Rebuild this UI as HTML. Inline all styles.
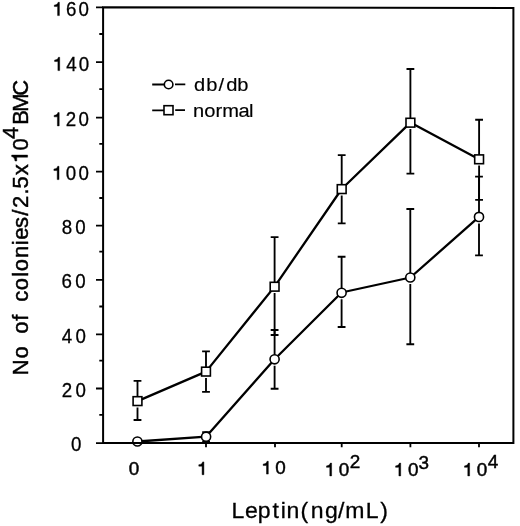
<!DOCTYPE html>
<html><head><meta charset="utf-8">
<style>
html,body{margin:0;padding:0;background:#fff;}
body{width:520px;height:526px;overflow:hidden;}
svg{display:block;will-change:transform;}
text{font-family:"Liberation Sans", sans-serif;fill:#000;stroke:#000;stroke-width:0.45px;}
.g1 path{stroke:#000;stroke-width:0.45px;}
</style></head>
<body>
<svg width="520" height="526" viewBox="0 0 520 526">
<rect x="0" y="0" width="520" height="526" fill="#fff"/>
<g fill="#000" class="g1">
<text transform="scale(0.96,1)" x="68.68 81.82" y="15.60" font-size="19.5" style="stroke-width:0.3px">60</text><path d="M59.40,15.60 V2.30 H58.10 C57.90,3.90 56.40,4.90 54.30,5.10 V6.55 H57.60 V15.60 Z"/>
<text transform="scale(0.96,1)" x="69.01 82.03" y="70.60" font-size="19.5" style="stroke-width:0.3px">40</text><path d="M59.70,70.60 V57.30 H58.40 C58.20,58.90 56.70,59.90 54.60,60.10 V61.55 H57.90 V70.60 Z"/>
<text transform="scale(0.96,1)" x="68.54 81.82" y="125.90" font-size="19.5" style="stroke-width:0.3px">20</text><path d="M59.20,125.90 V112.60 H57.90 C57.70,114.20 56.20,115.20 54.10,115.40 V116.85 H57.40 V125.90 Z"/>
<text transform="scale(0.96,1)" x="68.54 81.82" y="179.60" font-size="19.5" style="stroke-width:0.3px">00</text><path d="M59.00,179.60 V166.30 H57.70 C57.50,167.90 56.00,168.90 53.90,169.10 V170.55 H57.20 V179.60 Z"/>
<text transform="scale(0.96,1)" x="64.21 78.43" y="234.40" font-size="19.5" style="stroke-width:0.3px">80</text>
<text transform="scale(0.96,1)" x="64.15 78.43" y="288.50" font-size="19.5" style="stroke-width:0.3px">60</text>
<text transform="scale(0.96,1)" x="64.33 78.69" y="343.20" font-size="19.5" style="stroke-width:0.3px">40</text>
<text transform="scale(0.96,1)" x="64.21 78.69" y="396.90" font-size="19.5" style="stroke-width:0.3px">20</text>
<text transform="scale(0.96,1)" x="73.90" y="451.50" font-size="19.5" style="stroke-width:0.3px">0</text>
<text x="128.74" y="474.50" font-size="18.9">0</text>
<path d="M203.90,474.70 V461.90 H202.60 C202.40,463.50 200.90,464.50 198.80,464.70 V466.15 H202.10 V474.70 Z"/>
<text x="275.14" y="474.10" font-size="18.9">0</text><path d="M268.30,474.10 V461.30 H267.00 C266.80,462.90 265.30,463.90 263.20,464.10 V465.55 H266.50 V474.10 Z"/>
<text x="338.74" y="475.90" font-size="18.9">0</text><path d="M331.60,475.90 V463.10 H330.30 C330.10,464.70 328.60,465.70 326.50,465.90 V467.35 H329.80 V475.90 Z"/>
<text x="407.89" y="475.90" font-size="18.9">0</text><path d="M400.70,475.90 V463.10 H399.40 C399.20,464.70 397.70,465.70 395.60,465.90 V467.35 H398.90 V475.90 Z"/>
<text x="476.74" y="475.90" font-size="18.9">0</text><path d="M469.60,475.90 V463.10 H468.30 C468.10,464.70 466.60,465.70 464.50,465.90 V467.35 H467.80 V475.90 Z"/>
<text x="349.79" y="468.30" font-size="18.9">2</text>
<text x="418.55" y="468.90" font-size="18.9">3</text>
<text x="487.80" y="468.10" font-size="18.9">4</text>
<text transform="scale(1.07,1)" x="181.34 192.79 204.12 211.34 221.76" y="91.40" font-size="18.8" style="stroke-width:0.16px">db/db</text>
<text transform="scale(1.07,1)" x="180.41 190.89 201.31 207.77 222.88 232.72" y="117.50" font-size="18.8" style="stroke-width:0.16px">normal</text>
<text transform="scale(1.01,1)" x="229.09 242.69 255.14 269.91 278.02 283.74 297.64 307.60 321.69 334.56 341.83 362.26 376.45" y="518.10" font-size="22.8" style="stroke-width:0.3px">Leptin(ng/mL)</text>
<g transform="translate(27.60,400.00) rotate(-90) scale(1,1.035)"><text x="24.70 41.43 66.28 79.17 98.17 109.73 123.20 128.78 142.12 154.86 160.25 171.94 184.19 191.88 205.39 211.60 224.74 249.38" y="0.00" font-size="22">Noofcolonies/2.5x0</text><path d="M244.90,0.00 V-15.40 H243.39 C243.16,-13.55 241.43,-12.39 238.99,-12.16 V-10.48 H242.82 V0.00 Z"/><text x="261.00" y="-9.40" font-size="22">4</text><text x="275.29 288.29 304.37" y="0.00" font-size="22">BMC</text></g>
</g>

<!-- legend -->
<g stroke="#000" fill="#fff">
<path d="M152.2,84.5H165 M175,84.4H185.3" stroke-width="1.8"/>
<circle cx="168.6" cy="84.5" r="4.3" stroke-width="1.6"/>
<path d="M152.2,110.3H165 M175.2,110.2H185" stroke-width="1.8"/>
<rect x="164.0" y="105.7" width="9.0" height="9.0" stroke-width="1.6"/>
</g>

<!-- data lines -->
<g fill="none" stroke="#000" stroke-width="2.3" stroke-linejoin="round">
<polyline points="137.5,401.1 206,371.6 274.6,286.6 341.7,189 410.4,122.6 479,159.3"/>
<polyline points="137.5,441.5 206,436.7 274.6,359.3 341.6,292.5 410.4,277.5 479,216.9"/>
</g>

<!-- error bars -->
<g stroke="#000" stroke-width="1.85" fill="none">
<path d="M137.50,380.80V401.10 M137.50,407.40V420.00 M133.60,380.80H141.40 M133.60,420.00H141.40"/>
<path d="M206.00,351.40V371.60 M206.00,377.90V391.90 M202.10,351.40H209.90 M202.10,391.90H209.90"/>
<path d="M274.60,237.10V286.70 M274.60,293.00V335.00 M270.70,237.10H278.50 M270.70,335.00H278.50"/>
<path d="M341.70,155.10V189.10 M341.70,195.40V223.30 M337.80,155.10H345.60 M337.80,223.30H345.60"/>
<path d="M410.40,69.00V122.70 M410.40,129.00V173.60 M406.50,69.00H414.30 M406.50,173.60H414.30"/>
<path d="M479.10,119.70V159.30 M479.10,165.60V199.90 M475.20,119.70H483.00 M475.20,199.90H483.00"/>
<path d="M206.10,432.10V441.60 M202.20,432.10H210.00 M202.20,441.60H210.00"/>
<path d="M274.60,330.00V359.30 M274.60,365.80V388.70 M270.70,330.00H278.50 M270.70,388.70H278.50"/>
<path d="M341.60,256.80V292.80 M341.60,299.30V327.00 M337.70,256.80H345.50 M337.70,327.00H345.50"/>
<path d="M410.30,209.00V277.50 M410.30,284.00V344.20 M406.40,209.00H414.20 M406.40,344.20H414.20"/>
<path d="M479.00,176.60V216.90 M479.00,223.40V255.40 M475.10,176.60H482.90 M475.10,255.40H482.90"/>
</g>

<!-- markers -->
<g fill="#fff" stroke="#000" stroke-width="1.6">
<rect x="133.10" y="396.70" width="8.80" height="8.80"/>
<rect x="201.60" y="367.20" width="8.80" height="8.80"/>
<rect x="270.20" y="282.30" width="8.80" height="8.80"/>
<rect x="337.30" y="184.70" width="8.80" height="8.80"/>
<rect x="406.00" y="118.30" width="8.80" height="8.80"/>
<rect x="474.70" y="154.90" width="8.80" height="8.80"/>
<circle cx="137.40" cy="441.50" r="4.55"/>
<circle cx="206.10" cy="436.70" r="4.55"/>
<circle cx="274.60" cy="359.30" r="4.55"/>
<circle cx="341.60" cy="292.80" r="4.55"/>
<circle cx="410.30" cy="277.50" r="4.55"/>
<circle cx="479.00" cy="216.90" r="4.55"/>
</g>

<!-- axes frame -->
<path d="M103.1,7.2 L513.4,7.95 V443.1 H103.1 Z" stroke="#000" fill="none" stroke-width="2"/>
<g stroke="#000" stroke-width="1.8">
<path d="M96,7.3H103 M96,62.1H103 M96,117.6H103 M96,171.7H103 M96,225.7H103 M96,279.9H103 M96,334.4H103 M96,388.5H103 M96,443.1H103"/>
<path d="M99.3,34H103 M99.3,89.2H103 M99.3,143.9H103 M99.3,198H103 M99.3,251.7H103 M99.3,306.5H103 M99.3,360.6H103 M99.3,414.9H103"/>
<path d="M206,443V447.2 M275,443V447.2 M341.7,443V447.2 M410.4,443V447.2 M479,443V447.2"/>
</g>
</svg>
</body></html>
